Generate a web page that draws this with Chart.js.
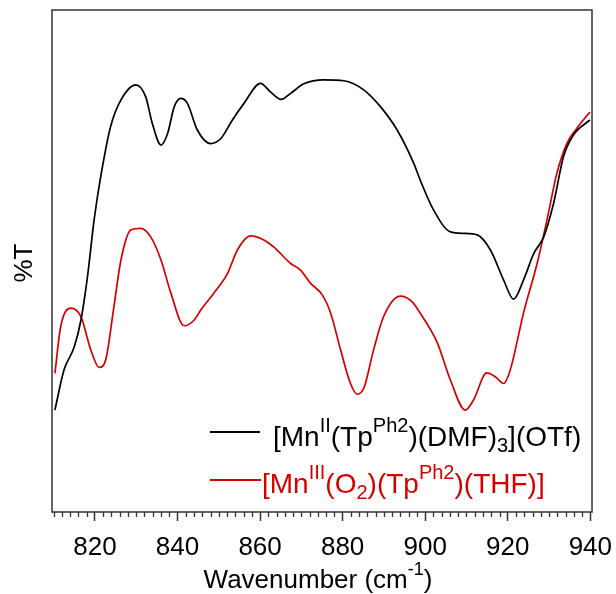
<!DOCTYPE html>
<html>
<head>
<meta charset="utf-8">
<script src="https://cdn.jsdelivr.net/npm/chart.js@4.4.1/dist/chart.umd.min.js"></script>
<style>
  body { margin: 0; background: #fff; }
  #wrap { width: 616px; height: 594px; }
</style>
</head>
<body>
<div id="wrap"><canvas id="irChart" width="616" height="594"></canvas></div>
<script>
// IR spectra, %T vs wavenumber
const blackWn = [810.3, 812.5, 815, 816.6, 818.2, 819.8, 821.4, 823.8, 826.3, 829.9, 832.3, 833.9, 836, 837.6, 839.2, 840.8, 842.4, 844.8, 848, 850.5, 853.3, 856.1, 860.1, 862.5, 865.1, 867.4, 870.6, 875.4, 880.3, 885.1, 889.2, 893.2, 897.2, 898.8, 902, 906.1, 909.3, 912.6, 915.8, 919, 921.4, 923.8, 926.3, 928.7, 931.1, 933.5, 935.9, 939.9];
const blackT = [20.3, 28.3, 32.9, 38.2, 46.9, 58.2, 66.8, 76.8, 82.1, 85.1, 82.7, 77.4, 73.1, 75.4, 80.7, 82.4, 81.4, 76.1, 73.4, 74.4, 78.1, 81.4, 85.4, 83.7, 82.2, 83.4, 85.3, 86.1, 85.9, 84.1, 80.7, 76.1, 69.5, 66.1, 60.2, 55.8, 55.5, 55.2, 52.2, 46.2, 42.4, 46.2, 51.5, 54.8, 61.5, 70.8, 75.1, 78.1];

const redWn = [810.3, 811.7, 814.2, 816.6, 819, 821, 822.6, 824.6, 826.3, 828.7, 831.1, 833.5, 836, 838.4, 841.6, 844, 845.6, 848.8, 852.1, 854.5, 857.7, 860.9, 863.3, 867.4, 869.8, 872.2, 875.1, 877.1, 879.5, 881.9, 883.5, 885.1, 887.5, 889.9, 894, 896.8, 898.8, 901.3, 903, 906.1, 909.7, 911.7, 914.9, 916.9, 919, 920.6, 923.8, 927.1, 929.5, 931.9, 934.3, 936.7, 939.9];
const redT = [27.6, 36.9, 40.6, 38.9, 32.3, 28.8, 30.3, 40.9, 50.2, 56.2, 56.5, 54.8, 50.2, 43.6, 37.1, 38.2, 40.2, 43.6, 47.5, 52.2, 55.0, 54.2, 52.8, 49.5, 48.2, 45.6, 43.2, 39.6, 32.3, 25.6, 23.5, 24.6, 32.3, 38.9, 43.0, 41.9, 39.6, 36.3, 33.6, 26.3, 20.3, 22.3, 27.7, 27.0, 25.6, 28.3, 39.6, 49.5, 58.2, 67.5, 73.4, 76.4, 79.7];

const xTicks = [820, 840, 860, 880, 900, 920, 940];

// legend texts, pieces: n = normal, sup, sub
const blackLabel = [['[Mn', 'n'], ['II', 'sup'], ['(Tp', 'n'], ['Ph2', 'sup'], [')(DMF)', 'n'], ['3', 'sub'], ['](OTf)', 'n']];
const redLabel = [['[Mn', 'n'], ['III', 'sup'], ['(O', 'n'], ['2', 'sub'], [')(Tp', 'n'], ['Ph2', 'sup'], [')(THF)]', 'n']];
const xTitle = [['Wavenumber (cm', 'n'], ['-1', 'sup'], [')', 'n']];

const FONT = '"Liberation Sans", Arial, sans-serif';

function toPoints(xs, ys) {
  return xs.map((x, i) => ({ x: x, y: ys[i] }));
}

function drawRich(ctx, parts, x, y, size, color, align) {
  const small = Math.round(size * 0.7);
  const widths = parts.map(p => {
    ctx.font = (p[1] === 'n' ? size : small) + 'px ' + FONT;
    return ctx.measureText(p[0]).width;
  });
  let total = widths.reduce((a, b) => a + b, 0);
  let cx = align === 'center' ? x - total / 2 : x;
  ctx.fillStyle = color;
  ctx.textBaseline = 'alphabetic';
  ctx.textAlign = 'left';
  parts.forEach((p, i) => {
    let dy = 0;
    if (p[1] === 'sup') dy = -size * 0.5;
    if (p[1] === 'sub') dy = size * 0.2;
    ctx.font = (p[1] === 'n' ? size : small) + 'px ' + FONT;
    ctx.fillText(p[0], cx, y + dy);
    cx += widths[i];
  });
}

const extras = {
  id: 'extras',
  afterDraw(chart) {
    const ctx = chart.ctx;
    const a = chart.chartArea;
    const xs = chart.scales.x;
    ctx.save();
    // minor ticks
    ctx.strokeStyle = '#333';
    ctx.lineWidth = 1.3;
    for (let v = 810; v <= 940; v += 2) {
      if (v % 20 === 0) continue;
      const px = Math.round(xs.getPixelForValue(v)) + 0.5;
      ctx.beginPath();
      ctx.moveTo(px, a.bottom);
      ctx.lineTo(px, a.bottom + 5);
      ctx.stroke();
    }
    // frame
    ctx.lineWidth = 1.5;
    ctx.strokeRect(a.left, a.top, a.right - a.left, a.bottom - a.top);

    // legend
    ctx.lineWidth = 1.8;
    ctx.strokeStyle = '#000';
    ctx.beginPath(); ctx.moveTo(210, 432); ctx.lineTo(260, 432); ctx.stroke();
    drawRich(ctx, blackLabel, 273, 446, 28, '#000', 'left');
    ctx.strokeStyle = '#d40000';
    ctx.beginPath(); ctx.moveTo(210, 480); ctx.lineTo(261, 480); ctx.stroke();
    drawRich(ctx, redLabel, 262, 493, 28, '#d40000', 'left');

    // axis titles
    drawRich(ctx, xTitle, 318, 588, 26, '#000', 'center');
    ctx.translate(32, 263);
    ctx.rotate(-Math.PI / 2);
    ctx.font = '26px ' + FONT;
    ctx.textAlign = 'center';
    ctx.textBaseline = 'alphabetic';
    ctx.fillStyle = '#000';
    ctx.fillText('%T', 0, 0);
    ctx.restore();
  }
};

const ctx = document.getElementById('irChart');
new Chart(ctx, {
  type: 'line',
  data: {
    datasets: [{
      label: 'Mn(II)',
      data: toPoints(blackWn, blackT),
      borderColor: '#000',
      borderWidth: 1.7,
      pointRadius: 0,
      cubicInterpolationMode: 'monotone'
    }, {
      label: 'Mn(III)',
      data: toPoints(redWn, redT),
      borderColor: '#d40000',
      borderWidth: 1.7,
      pointRadius: 0,
      cubicInterpolationMode: 'monotone'
    }]
  },
  options: {
    responsive: false,
    animation: false,
    devicePixelRatio: 1,
    layout: { padding: { left: 52, top: 10, right: 24, bottom: 0 } },
    plugins: {
      legend: { display: false },
      tooltip: { enabled: false }
    },
    scales: {
      x: {
        type: 'linear',
        min: 809.6,
        max: 940.4,
        afterFit: s => { s.height = 82; s.paddingLeft = 0; s.paddingRight = 0; },
        afterBuildTicks: s => { s.ticks = xTicks.map(v => ({ value: v })); },
        border: { display: false },
        grid: {
          drawOnChartArea: false,
          drawTicks: true,
          tickLength: 9,
          tickColor: '#333',
          tickWidth: 1.5
        },
        ticks: {
          autoSkip: false,
          maxRotation: 0,
          padding: 11,
          color: '#000',
          font: { family: FONT, size: 26 }
        }
      },
      y: {
        display: false,
        min: 0,
        max: 100
      }
    }
  },
  plugins: [extras]
});
</script>
</body>
</html>
